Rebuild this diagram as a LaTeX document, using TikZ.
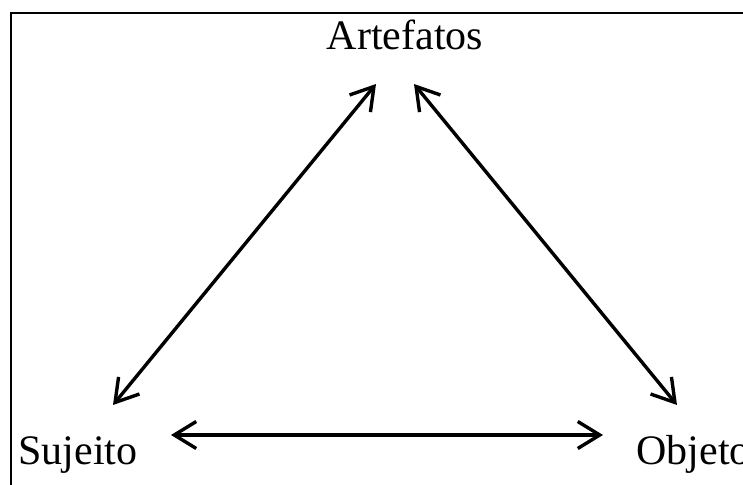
\documentclass[tikz,border=0pt]{standalone}
\usepackage{fontspec}
\setmainfont{Liberation Serif}
\usetikzlibrary{arrows.meta}

\begin{document}
\begin{tikzpicture}[x=0.5pt,y=-0.5pt,
    rotulo/.style={inner sep=0pt,font=\fontsize{21}{25}\selectfont},
    seta/.style={line width=1.7pt,>={Straight Barb[length=11pt,width=13.5pt]},<->}]
        \useasboundingbox (0,0) rectangle (743,485);
        \clip (0,0) rectangle (743,485);

        % moldura
        \draw[line width=1.1pt] (11,13) rectangle (800,600);

        % vertices do triangulo
        \node[rotulo,anchor=base] (artefatos) at (405,50) {Artefatos};
        \node[rotulo,anchor=base west] (sujeito) at (18,465) {Sujeito};
        \node[rotulo,anchor=base west] (objeto) at (636,464) {Objeto};

        % pontas das setas
        \coordinate (art-e) at (376,84);
        \coordinate (art-d) at (414,84);
        \coordinate (suj-c) at (113,405);
        \coordinate (suj-d) at (171,435);
        \coordinate (obj-c) at (677,405);
        \coordinate (obj-e) at (603,435);

        % setas
        \draw[seta] (suj-c) -- (art-e);
        \draw[seta] (art-d) -- (obj-c);
        \draw[seta] (suj-d) -- (obj-e);
\end{tikzpicture}
\end{document}
